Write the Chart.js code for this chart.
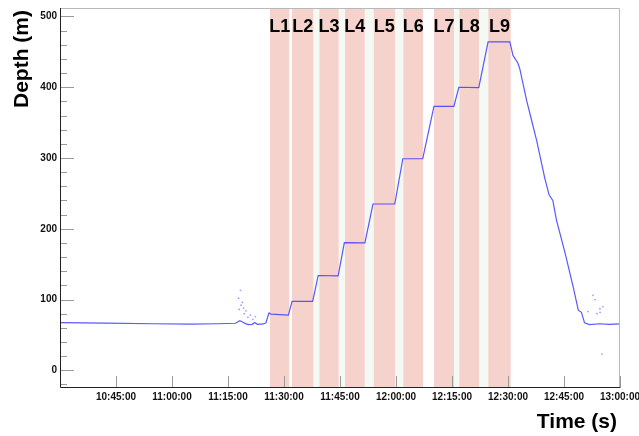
<!DOCTYPE html>
<html>
<head>
<meta charset="utf-8">
<script src="https://cdn.jsdelivr.net/npm/chart.js@4.4.1/dist/chart.umd.min.js"></script>
<style>
  html, body { margin: 0; padding: 0; background: #ffffff; }
  #wrap { width: 639px; height: 436px; }
</style>
</head>
<body>
<div id="wrap"><canvas id="c" width="639" height="436"></canvas></div>
<script>
// Depth profile of the descent, clock time (HH:MM:SS) and depth in metres
const depthTimes = [
  "10:30:00", "10:42:00", "10:55:00", "11:05:00", "11:12:00", "11:17:00",
  "11:18:10", "11:19:00", "11:19:40", "11:20:30", "11:21:30", "11:22:10",
  "11:22:50", "11:24:30", "11:25:10", "11:25:40", "11:26:00", "11:26:30",
  "11:31:10", "11:32:10", "11:37:40", "11:39:10", "11:44:30", "11:46:10",
  "11:51:40", "11:53:50", "11:59:40", "12:01:50", "12:07:10", "12:10:10",
  "12:15:30", "12:16:50", "12:22:10", "12:24:40", "12:30:30", "12:31:20",
  "12:32:40", "12:33:10", "12:35:00", "12:36:20", "12:37:40", "12:39:50",
  "12:41:00", "12:42:00", "12:43:00", "12:45:20", "12:47:30", "12:48:50",
  "12:49:40", "12:50:30", "12:51:50", "12:54:40", "12:57:00", "13:00:00"
];
const depthValues = [
  67.5, 66.8, 65.8, 65.2, 65.8, 66.5,
  70, 68, 66, 64.5, 65, 67.5,
  65, 65.5, 67, 76, 81, 79.5,
  78, 97.5, 97.5, 134, 133.5, 180.5,
  180, 235, 235, 299, 299, 373,
  373, 400, 399.5, 464, 464, 445,
  434, 426, 381, 353, 325, 272,
  248, 240, 212, 165, 117, 85,
  82, 67, 64.5, 65.8, 65, 65.6
];

// Isolated readings scattered away from the main trace
const strayTimes = [
  "11:17:50", "11:18:00", "11:18:20", "11:18:30", "11:18:50", "11:19:10",
  "11:19:20", "11:19:50", "11:20:20", "11:21:00", "11:21:40", "11:22:20",
  "12:51:26", "12:52:46", "12:53:18", "12:53:50", "12:54:38", "12:54:40",
  "12:55:10", "12:55:26"
];
const strayValues = [
  102, 86, 113, 92, 96, 88,
  80, 84, 75, 78, 72, 76,
  83, 106, 100, 80, 87, 82,
  23, 90
];

// Sampling layers
const layerNames = ["L1", "L2", "L3", "L4", "L5", "L6", "L7", "L8", "L9"];
const layerStart = ["11:26:15", "11:32:08", "11:39:28", "11:46:20", "11:54:02",
                    "12:01:58", "12:10:11", "12:16:58", "12:24:43"];
const layerEnd   = ["11:31:25", "11:37:51", "11:44:39", "11:51:37", "11:59:44",
                    "12:07:14", "12:15:32", "12:22:14", "12:30:44"];
// Index of the layer after which the pause between layers is marked
const pauseAfter = [1, 2, 3, 4, 6, 7];

const xTickLabels = ["10:45:00", "11:00:00", "11:15:00", "11:30:00", "11:45:00",
                     "12:00:00", "12:15:00", "12:30:00", "12:45:00", "13:00:00"];
const yTickValues = [0, 100, 200, 300, 400, 500];

const toSec = s => {
  const [h, m, sec] = s.split(":").map(Number);
  return h * 3600 + m * 60 + sec;
};
const pad = n => String(n).padStart(2, "0");
const fmtClock = v => {
  const t = Math.round(v);
  return pad(Math.floor(t / 3600)) + ":" + pad(Math.floor((t % 3600) / 60)) + ":" + pad(t % 60);
};

const FONT = "'Liberation Sans', Arial, Helvetica, sans-serif";

const decorPlugin = {
  id: "decor",
  beforeDatasetsDraw(chart) {
    const { ctx, chartArea: a, scales: { x } } = chart;
    ctx.save();
    // pauses between layers
    ctx.fillStyle = "rgb(245,249,244)";
    pauseAfter.forEach(i => {
      const x0 = x.getPixelForValue(toSec(layerEnd[i]));
      const x1 = x.getPixelForValue(toSec(layerStart[i + 1]));
      ctx.fillRect(x0, a.top, x1 - x0, a.bottom - a.top);
    });
    // layer bands
    ctx.fillStyle = "rgb(246,210,205)";
    layerStart.forEach((s, i) => {
      const x0 = x.getPixelForValue(toSec(s));
      const x1 = x.getPixelForValue(toSec(layerEnd[i]));
      ctx.fillRect(x0, a.top, x1 - x0, a.bottom - a.top);
    });
    ctx.restore();
  },
  afterDatasetsDraw(chart) {
    const { ctx, chartArea: a, scales: { x, y } } = chart;
    ctx.save();
    // inward tick marks
    ctx.strokeStyle = "#9a9a9a";
    ctx.lineWidth = 1;
    ctx.beginPath();
    for (let v = -20; v <= 500; v += 20) {
      const py = Math.round(y.getPixelForValue(v)) + 0.5;
      const len = v % 100 === 0 ? 14 : 7;
      ctx.moveTo(a.left, py);
      ctx.lineTo(a.left + len, py);
    }
    xTickLabels.forEach(l => {
      const px = Math.round(x.getPixelForValue(toSec(l))) + 0.5;
      ctx.moveTo(px, a.bottom);
      ctx.lineTo(px, a.bottom - 12);
    });
    ctx.stroke();

    // frame
    ctx.strokeStyle = "#b8b8b8";
    ctx.beginPath();
    ctx.moveTo(a.left, a.top + 0.5);
    ctx.lineTo(a.right - 0.5, a.top + 0.5);
    ctx.lineTo(a.right - 0.5, a.bottom);
    ctx.stroke();
    ctx.strokeStyle = "#222";
    ctx.beginPath();
    ctx.moveTo(a.left + 0.5, a.top);
    ctx.lineTo(a.left + 0.5, a.bottom - 0.5);
    ctx.lineTo(a.right, a.bottom - 0.5);
    ctx.stroke();

    // layer names
    ctx.fillStyle = "#000";
    ctx.font = "bold 18px " + FONT;
    ctx.textAlign = "center";
    ctx.textBaseline = "alphabetic";
    layerNames.forEach((n, i) => {
      const cx = (x.getPixelForValue(toSec(layerStart[i])) + x.getPixelForValue(toSec(layerEnd[i]))) / 2;
      ctx.fillText(n, cx, 31.5);
    });

    // axis titles
    ctx.font = "bold 21px " + FONT;
    ctx.textAlign = "right";
    ctx.fillText("Time (s)", 617, 428);
    ctx.translate(28, 10);
    ctx.rotate(-Math.PI / 2);
    ctx.textAlign = "right";
    ctx.fillText("Depth (m)", 0, 0);
    ctx.restore();
  }
};

new Chart(document.getElementById("c"), {
  type: "scatter",
  data: {
    datasets: [
      {
        data: depthTimes.map((t, i) => ({ x: toSec(t), y: depthValues[i] })),
        showLine: true,
        borderColor: "rgba(60,60,255,0.85)",
        borderWidth: 1.2,
        pointRadius: 0,
        tension: 0
      },
      {
        data: strayTimes.map((t, i) => ({ x: toSec(t), y: strayValues[i] })),
        pointRadius: 0.9,
        pointBorderWidth: 0,
        backgroundColor: "rgba(80,80,255,0.55)"
      }
    ]
  },
  options: {
    responsive: false,
    animation: false,
    devicePixelRatio: 1,
    layout: { padding: { top: 8, right: 19, left: 0, bottom: 0 } },
    plugins: { legend: { display: false }, tooltip: { enabled: false } },
    scales: {
      x: {
        type: "linear",
        min: toSec("10:30:00"),
        max: toSec("13:00:00"),
        afterBuildTicks: s => { s.ticks = xTickLabels.map(l => ({ value: toSec(l) })); },
        afterFit: s => { s.height = 48; s.paddingLeft = 0; s.paddingRight = 0; },
        ticks: {
          callback: v => fmtClock(v),
          font: { family: FONT, weight: "bold", size: 10 },
          color: "#111",
          padding: 3,
          maxRotation: 0,
          autoSkip: false
        },
        grid: { display: false, drawTicks: false },
        border: { display: false }
      },
      y: {
        min: -25,
        max: 512,
        afterBuildTicks: s => { s.ticks = yTickValues.map(v => ({ value: v })); },
        afterFit: s => { s.width = 60; s.paddingTop = 0; s.paddingBottom = 0; },
        ticks: {
          font: { family: FONT, weight: "bold", size: 10 },
          color: "#111",
          padding: 3
        },
        grid: { display: false, drawTicks: false },
        border: { display: false }
      }
    }
  },
  plugins: [decorPlugin]
});
</script>
</body>
</html>
